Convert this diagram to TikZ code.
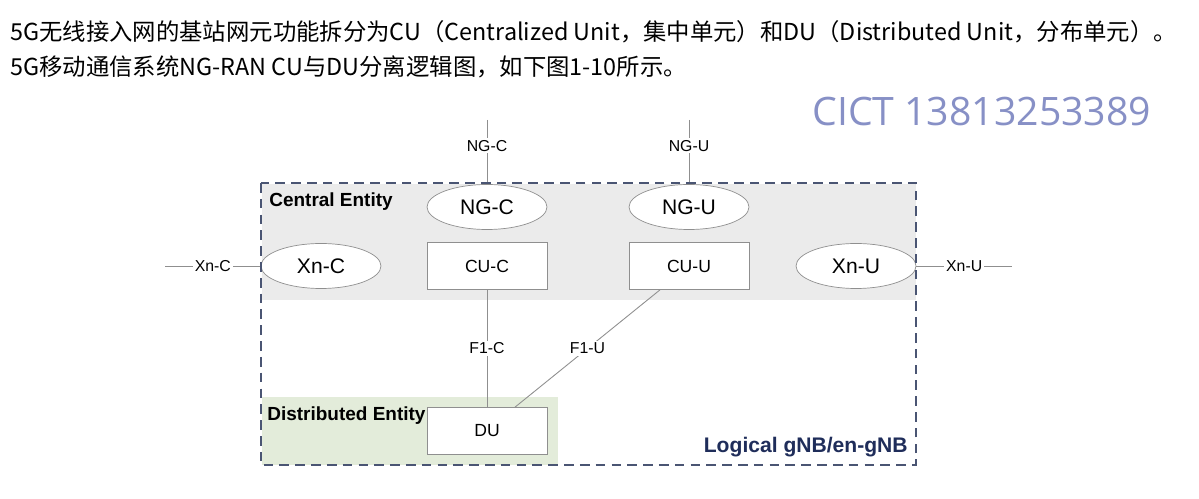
\documentclass[tikz,border=0pt]{standalone}
\usepackage{fontspec}
\setmainfont{Liberation Sans}
\newfontfamily\cjkfont{Noto Sans CJK SC}
\newfontfamily\markfont{Open Sans}
\usetikzlibrary{positioning,shapes.geometric,calc}
\definecolor{frame}{HTML}{4A5573}
\definecolor{cugray}{HTML}{EBEBEB}
\definecolor{dugreen}{HTML}{E3ECDA}
\definecolor{wirec}{HTML}{8F8F8F}
\definecolor{navy}{HTML}{1F2D5A}
\definecolor{mark}{HTML}{8790C6}
\tikzset{
  iface/.style={ellipse,draw=wirec,fill=white,minimum width=2.4cm,minimum height=0.9cm,inner sep=0pt,font=\fontsize{12}{14}\selectfont},
  unit/.style={rectangle,draw=wirec,fill=white,minimum width=2.4cm,minimum height=0.94cm,inner sep=0pt,font=\fontsize{10}{12}\selectfont},
  wire/.style={draw=wirec,line width=0.5pt},
  tag/.style={fill=white,inner sep=1pt,font=\fontsize{9}{10}\selectfont},
  zone/.style={anchor=west,inner sep=0pt,font=\bfseries\fontsize{10.8}{12}\selectfont},
  caption/.style={anchor=west,inner sep=0pt,font=\cjkfont\fontsize{13.3}{15}\selectfont}
}
\begin{document}
\begin{tikzpicture}[x=0.02cm,y=-0.02cm]
        \useasboundingbox (0,0) rectangle (1199,499);
        \fill[white] (0,0) rectangle (1199,499);
        % heading text
        \node[caption] (line1) at (10,32) {5G无线接入网的基站网元功能拆分为CU（Centralized Unit，集中单元）和DU（Distributed Unit，分布单元）。};
        \node[caption] (line2) at (10,67) {5G移动通信系统NG-RAN CU与DU分离逻辑图，如下图1-10所示。};
        \node[anchor=west,inner sep=0pt,text=mark,font=\markfont\fontsize{22.3}{26}\selectfont] (wmark) at (812,112) {CICT 13813253389};
        % zones
        \fill[cugray] (262,184) rectangle (916,300);
        \fill[dugreen] (262,397) rectangle (558,465);
        \node[zone] (central) at (269,202) {Central Entity};
        \node[zone] (distrib) at (267,416) {Distributed Entity};
        \node[anchor=east,inner sep=0pt,text=navy,font=\bfseries\fontsize{12}{14}\selectfont] (gnb) at (908,447) {Logical gNB/en-gNB};
        % nodes
        \node[iface] (ngc) at (487,207) {NG-C};
        \node[iface] (ngu) at (689,207) {NG-U};
        \node[iface] (xnc) at (321,266) {Xn-C};
        \node[iface] (xnu) at (856,266) {Xn-U};
        \node[unit] (cuc) at (487,266) {CU-C};
        \node[unit] (cuu) at (689,266) {CU-U};
        \node[unit] (du) at (487,431) {DU};
        \coordinate (ngcend) at (487,120);
        \coordinate (nguend) at (689,120);
        \coordinate (xncend) at (165,266);
        \coordinate (xnuend) at (1012,266);
        % links
        \draw[wire] (ngcend) -- node[tag,pos=0.4] {NG-C} (ngc);
        \draw[wire] (nguend) -- node[tag,pos=0.4] {NG-U} (ngu);
        \draw[wire] (xncend) -- node[tag] {Xn-C} (xnc);
        \draw[wire] (xnu) -- node[tag] {Xn-U} (xnuend);
        \draw[wire] (cuc) -- node[tag] {F1-C} (du);
        \draw[wire] ([xshift=-0.58cm]cuu.south) -- node[tag] {F1-U} ([xshift=0.56cm]du.north);
        % logical frame
        \draw[frame,line width=1.1pt,dash pattern=on 5.5pt off 3.5pt] (261,183) rectangle (916,465);
      \end{tikzpicture}
\end{document}
